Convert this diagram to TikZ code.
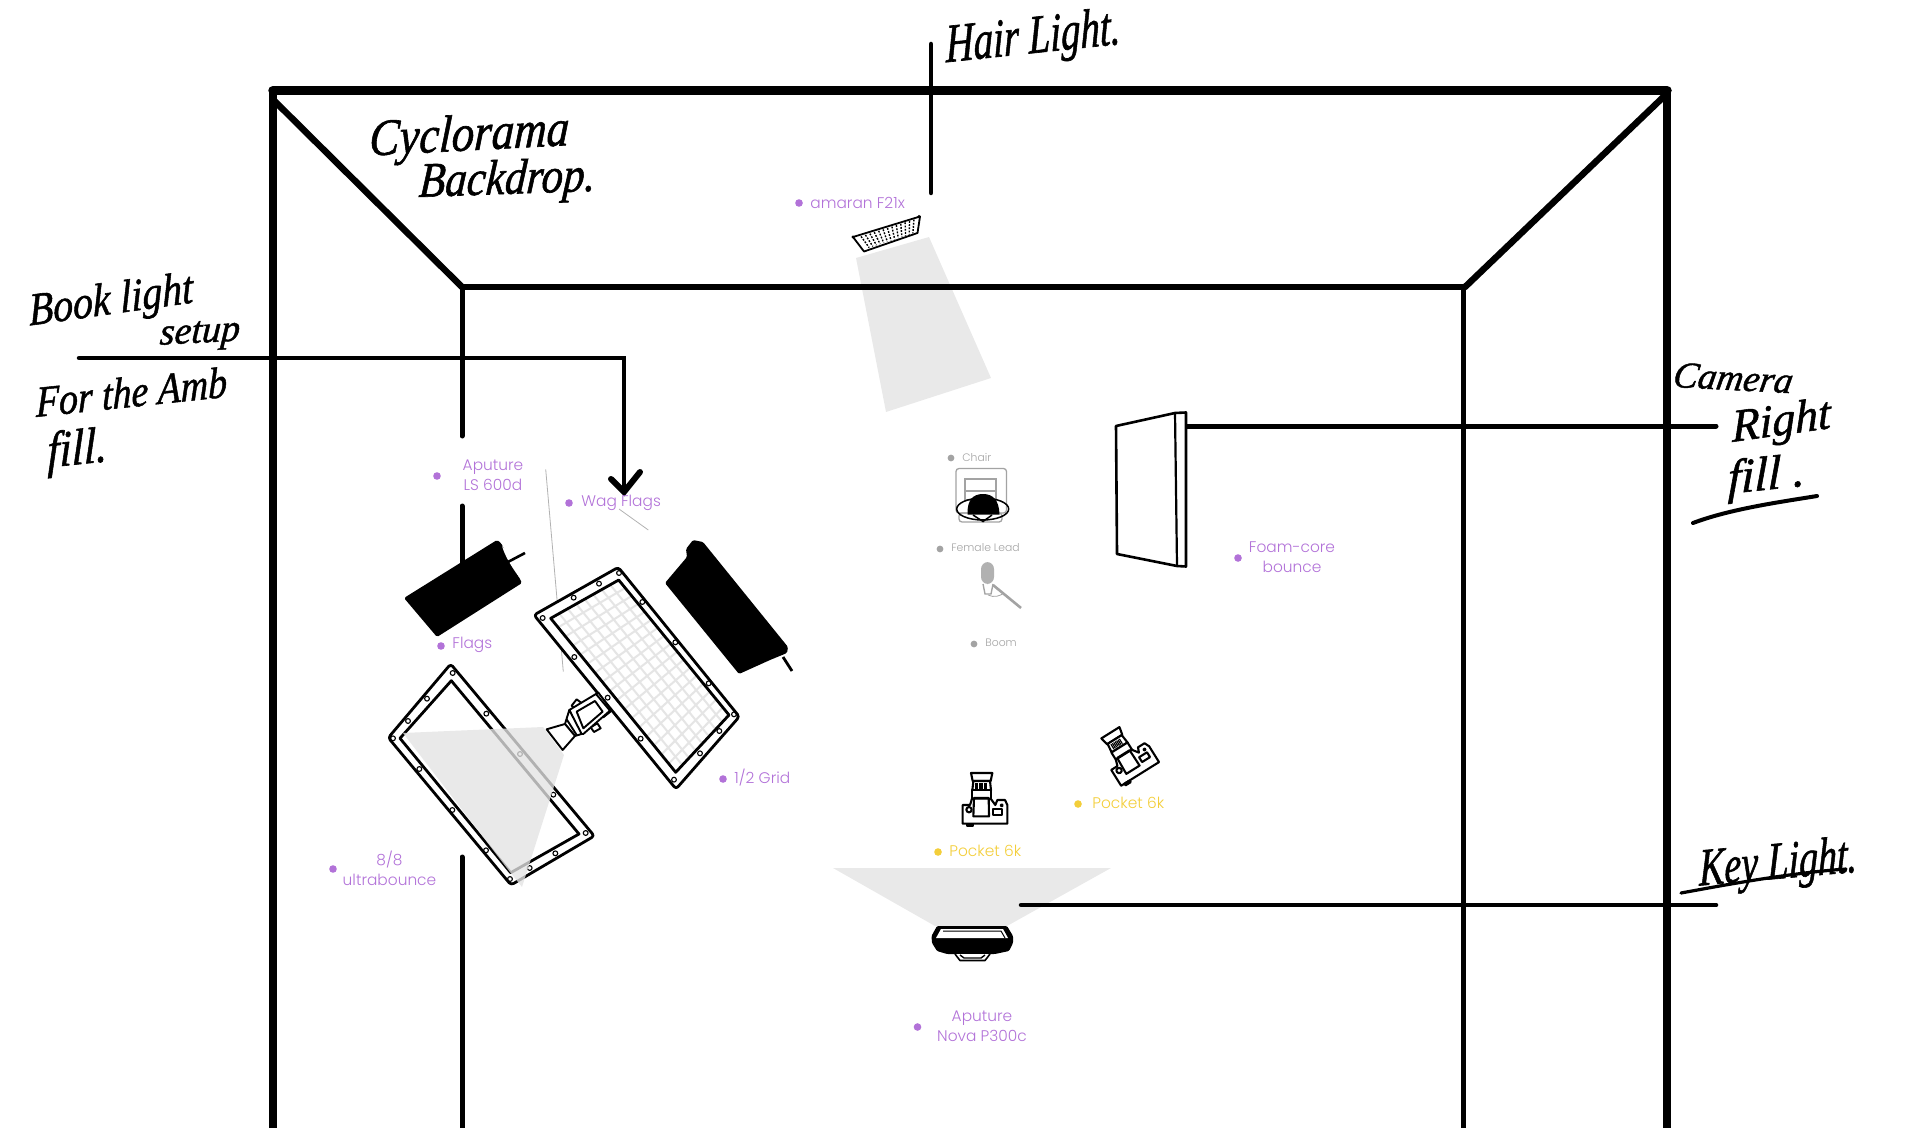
\documentclass[tikz,border=0pt]{standalone}
\usepackage{fontspec}
\usepackage{graphicx}
\usetikzlibrary{calc}
\setmainfont{Poppins Light}
\newfontfamily\handfont[FakeBold=1.2,FakeSlant=0.12]{Liberation Serif Italic}
\newcommand\tallA[1]{\scalebox{1}[1.4]{#1}}
\newcommand\tallB[1]{\scalebox{1}[1.15]{#1}}
\definecolor{purp}{HTML}{B272D8}
\definecolor{greyl}{HTML}{A3A3A3}
\definecolor{yell}{HTML}{F3CE3A}
\definecolor{beamc}{HTML}{E3E3E3}
\tikzset{
  wall/.style={line width=#1*0.5pt,line cap=round,black},
  lbl/.style={inner sep=0pt,align=center,font=\fontsize{7.7}{10}\selectfont,text=#1},
  slbl/.style={inner sep=0pt,font=\fontsize{5.4}{7}\selectfont,text=greyl},
  dotp/.style={circle,inner sep=0pt,minimum size=3.8pt,fill=#1},
  hand/.style={inner sep=0pt,text=black,font=\handfont\fontsize{#1}{#1}\selectfont},
  beam/.style={fill=beamc,fill opacity=.78,draw=none},
  frame/.style={draw=black,line width=1.4pt,line join=round},
  rivet/.style={draw=black,line width=.55pt,fill=none},
  camicon/.pic={
    \begin{scope}[scale=0.3333,shift={(-195,-238)},line width=1.05pt,line join=round,draw=black,fill=white]
      \filldraw (153,160)--(217,160)--(212,184)--(158,184)--cycle;
      \filldraw (160,184)--(210,184)--(213,212)--(157,212)--cycle;
      \filldraw (156,212)--(213,212)--(213,240)--(156,240)--cycle;
      \foreach \q in {168,173,...,198}{\draw[line width=.6pt] (\q,190)--(\q,207);}
      \filldraw (128,256)--(150,256)--(156,237)--(212,237)--(226,256)--(232,241)--(255,241)--(262,256)--(262,312)--(128,312)--cycle;
      \filldraw (140,312)--(158,312)--(158,318)--(140,318)--cycle;
      \draw (162,235)--(206,235)--(207,290)--(160,290)--cycle;
      \draw (147,270) circle (8);
      \draw (219,268) rectangle (247,285);
      \draw (245,257) circle (3);
    \end{scope}
  }
}
\begin{document}
\begin{tikzpicture}[x=0.5pt,y=-0.5pt]
\path[use as bounding box] (0,0) rectangle (1920,1128);

% named corners
\coordinate (oTL) at (273,90.5);
\coordinate (oTR) at (1667,90.5);
\coordinate (oBL) at (273,1128);
\coordinate (oBR) at (1667,1128);
\coordinate (iTL) at (462,287);
\coordinate (iTR) at (1465,287);
\coordinate (iBR) at (1463,1128);
\coordinate (iBL) at (462,1128);

% hair beam and key beam (under the walls)
\path[beam] (856,258)--(929,237)--(991,378)--(886,412)--cycle;
\path[beam] (833,868)--(1111,868)--(1007,926)--(935,926)--cycle;

% walls
\draw[wall=9.5] (oTL)--(oTR);
\draw[wall=8] (oTL)--(oBL);
\draw[wall=8] (oTR)--(oBR);
\draw[wall=6.5] ($(oTL)+(0,9)$)--(iTL);
\draw[wall=6.5] ($(oTR)+(0,3)$)--(iTR);
\draw[wall=6] (iTL)--(iTR);
\draw[wall=5] (1463,287)--(iBR);
\draw[wall=5] (iTL)--(462,436);
\draw[wall=5] (462,506)--(462,570);
\draw[wall=5] (462,857)--(iBL);

% leader lines
\coordinate (hairTop) at (931,44);
\coordinate (hairEnd) at (931,193);
\draw[wall=4.5] (hairTop)--(hairEnd);
\coordinate (bookS) at (79,358);
\coordinate (bookC) at (624,358);
\coordinate (bookE) at (624,492);
\draw[wall=4.5,line join=miter] (bookS)--(bookC)--(bookE);
\coordinate (arrL) at (611,479);
\coordinate (arrR) at (640,472);
\draw[wall=6,line join=miter] (arrL)--(bookE)--(arrR);
\coordinate (camS) at (1184,426);
\coordinate (camE) at (1716,426);
\draw[wall=5] (camS)--(camE);
\coordinate (keyS) at (1021,905);
\coordinate (keyE) at (1716,905);
\draw[wall=4.5] (keyS)--(keyE);

% thin grey lines
\coordinate (tA) at (545.7,469.3);
\coordinate (tB) at (563.3,671.7);
\coordinate (tC) at (619,509);
\coordinate (tD) at (648.3,530);
\draw[line width=.4pt,color=black!30] (tA)--(tB);
\draw[line width=.4pt,color=black!30] (tC)--(tD);

% hair light icon
\filldraw[fill=white,draw=black,line width=.9pt,line join=round]
  (853,237)--(920,216.5)--(917.5,233)--(864,251.5)--cycle;
\foreach \t in {0.08,0.15,...,0.95}{
  \draw[line width=.7pt,dash pattern=on .9pt off .7pt]
   ($(856,238)!\t!(919,218)$)--($(865,249)!\t!(917,232)$);
}
\fill (853,237) circle (1.6);
\fill (919,216.5) circle (1.6);

% LS600d
\fill[rounded corners=.8pt] (404,598)--(497,540)--(501,543)--(522,583)--(437,637)--cycle;
\fill[white] (502,546) .. controls (512,555) and (518,570) .. (519,577) .. controls (511,566) and (505,556) .. cycle;
\draw[line width=1.3pt] (506,563)--(525,553);

% second black light
\fill[rounded corners=.7pt] (665,583)--(687,557)--(686,549)--(693,540)--(703,542)--(788,647)--(787,653)--(770,660)--(739,674)--cycle;
\draw[line width=1.4pt] (783,657)--(792,671);

% ultrabounce frame
\coordinate (uA) at (450.7,664);
\coordinate (uB) at (388.3,737.7);
\coordinate (uC) at (511,885);
\coordinate (uD) at (594.3,836);
\coordinate (uIA) at (451.3,680.7);
\coordinate (uIB) at (400,738.3);
\coordinate (uIC) at (510.7,872.7);
\coordinate (uID) at (579,834);
\filldraw[frame,fill=white,rounded corners=1.5pt] (uA)--(uB)--(uC)--(uD)--cycle;
\draw[frame] (uIA)--(uIB)--(uIC)--(uID)--cycle;
\foreach \a/\b in {218/699,141/776,84/843,39/895,118/987,217/1110,318/1231,390/1317,449/1284,526/1240,617/1179,520/1064,420/942,319/821}{
  \draw[rivet] ({380+\a/3},{440+\b/3}) circle (2.4);
}
% bounce beam
\path[beam] (403,733)--(543,727)--(564,755)--(522,887)--(510,872)--cycle;

% grid frame
\coordinate (gA) at (618.3,567.3);
\coordinate (gB) at (534,615);
\coordinate (gC) at (676,789);
\coordinate (gD) at (739.3,716.7);
\coordinate (gIA) at (618.7,580);
\coordinate (gIB) at (550.7,618.3);
\coordinate (gIC) at (675.7,772.3);
\coordinate (gID) at (729,715);
\filldraw[frame,fill=white,rounded corners=1.5pt] (gA)--(gB)--(gC)--(gD)--cycle;
\foreach \t in {0.059,0.118,...,0.96}{
  \draw[line width=1pt,color=black!10] ($(gIA)!\t!(gID)$)--($(gIB)!\t!(gIC)$);
}
\foreach \t in {0.125,0.25,...,0.9}{
  \draw[line width=1pt,color=black!10] ($(gIA)!\t!(gIB)$)--($(gID)!\t!(gIC)$);
}
\draw[frame] (gIA)--(gIB)--(gIC)--(gID)--cycle;
\foreach \a/\b in {717/399,657/431,581/473,488/534,583/651,683/773,782/896,882/1019,960/940,1018/873,1062/823,986/730,886/607,787/486}{
  \draw[rivet] ({380+\a/3},{440+\b/3}) circle (2.4);
}

% clamp and bulb between the frames
\begin{scope}[shift={(380,440)},scale=0.3333,line width=.95pt,line join=round,draw=black,fill=white]
  \filldraw (575,797)--(590,778)--(606,790)--(590,810)--cycle;
  \filldraw (632,862)--(652,850)--(662,865)--(642,876)--cycle;
  \filldraw (640,770)--(655,758)--(695,812)--(670,832)--cycle;
  \filldraw (568,810)--(648,762)--(690,812)--(610,882)--(600,882)--cycle;
  \draw (590,815)--(645,783)--(668,815)--(610,865)--cycle;
  \filldraw (555,852)--(568,810)--(605,882)--(585,888)--cycle;
  \draw (560,838)--(590,885);
  \filldraw (500,868)--(555,852)--(585,888)--(548,930)--cycle;
\end{scope}

% chair and talent
\draw[greyl,line width=.65pt,rounded corners=1.5pt] (956,468.5) rectangle (1006.5,513);
\draw[greyl,line width=.65pt] (965,479) rectangle (996,500);
\draw[greyl,line width=.65pt] (965,491)--(996,491);
\draw[greyl,line width=.65pt,rounded corners=1.5pt] (959,513) rectangle (1002,522);
\draw[black,line width=.75pt] (982.7,509) ellipse (26 and 11);
\fill (967.5,514.5) .. controls (967,500) and (973,494) .. (983,494) .. controls (993,494) and (999,500) .. (999.5,514.5) -- cycle;
\draw[black,line width=.75pt] (973,515)--(983,521.5)--(992,515);

% microphone
\fill[greyl!85,rounded corners=3.5pt] (981,562) rectangle (994,584);
\draw[greyl,line width=.7pt] (983,584)--(985,594)--(991,594)--(993,584);
\draw[greyl,line width=1.3pt] (993,585)--(1021,608);
\draw[greyl,line width=.4pt] (988,595) .. controls (994,598) and (1000,596) .. (1004,593);

% foam-core
\filldraw[fill=white,draw=black,line width=1.3pt,line join=round] (1116,426)--(1175,413)--(1186,412.5)--(1186,566.5)--(1177,566)--(1117,554)--cycle;
\draw[black,line width=1.1pt] (1175,413)--(1177,566);

% cameras
\pic[rotate=0] (camA) at (985,799) {camicon};
\pic[rotate=32] (camB) at (1127,753) {camicon};

% key light icon
\fill[rounded corners=.6pt] (937,926)--(1007,926)--(1013,936)--(1013,943)--(1009,951)--(995,954)--(947,954)--(937,951)--(932,943)--(931.5,936)--cycle;
\fill[white] (941,929)--(1003,929)--(1008,938)--(936,938)--cycle;
\draw[line width=.5pt] (943,931)--(1001,931)--(1005,938);
\filldraw[fill=white,draw=black,line width=.8pt,line join=round] (955,954)--(960,960.5)--(985,960.5)--(990,954);
\draw[line width=.7pt] (960,955)--(964,958)--(981,958)--(985,955);

% labels
\node[dotp=purp] (dF) at (799,203) {};
\node[lbl=purp,anchor=west] (lF) at (810,203) {amaran F21x};
\node[dotp=purp] (dLS) at (437,476) {};
\node[lbl=purp] (lLS) at (493,475) {Aputure\\LS 600d};
\node[dotp=purp] (dW) at (569,503) {};
\node[lbl=purp,anchor=west] (lW) at (581,502.5) {Wag Flags};
\node[dotp=purp] (dFl) at (441,646) {};
\node[lbl=purp,anchor=west] (lFl) at (452,645) {Flags};
\node[dotp=purp] (dG) at (723,779) {};
\node[lbl=purp,anchor=west] (lG) at (734,778) {1/2 Grid};
\node[dotp=purp] (dU) at (333,869) {};
\node[lbl=purp] (lU) at (389.5,868) {8/8\\ultrabounce};
\node[dotp=purp] (dN) at (917.5,1027) {};
\node[lbl=purp] (lN) at (982,1026) {Aputure\\Nova P300c};
\node[dotp=purp] (dFc) at (1238,558) {};
\node[lbl=purp] (lFc) at (1292,557) {Foam-core\\bounce};
\node[dotp=yell] (dP1) at (938,852) {};
\node[lbl=yell,anchor=west] (lP1) at (949,851) {Pocket 6k};
\node[dotp=yell] (dP2) at (1078,804) {};
\node[lbl=yell,anchor=west] (lP2) at (1092,803) {Pocket 6k};
\node[dotp=greyl,minimum size=3.4pt] (dC) at (951,458) {};
\node[slbl,anchor=west] (lC) at (962,457) {Chair};
\node[dotp=greyl,minimum size=3.4pt] (dL) at (940,549) {};
\node[slbl,anchor=west] (lL) at (951,547.5) {Female Lead};
\node[dotp=greyl,minimum size=3.4pt] (dB) at (974,644) {};
\node[slbl,anchor=west] (lB) at (985,643) {Boom};

% handwriting
\node[hand=19.5,rotate=6] (hHair) at (1032,40) {\tallA{Hair Light.}};
\node[hand=22.5,rotate=3] (hCyc) at (468,138) {\tallB{Cyclorama}};
\node[hand=21.5,rotate=2] (hBack) at (506,182) {\tallB{Backdrop.}};
\node[hand=20,rotate=8] (hBook) at (110,303) {\tallB{Book light}};
\node[hand=19,rotate=3] (hSet) at (199,336) {setup};
\node[hand=19,rotate=6] (hFor) at (130,392) {\tallB{For the Amb}};
\node[hand=22,rotate=6] (hFill) at (76,452) {\tallB{fill.}};
\node[hand=18.5,rotate=-3] (hCam) at (1732,378) {Camera};
\node[hand=23,rotate=8] (hRight) at (1780,424) {Right};
\node[hand=24,rotate=6] (hFillR) at (1765,478) {fill .};
\node[hand=19,rotate=5] (hKey) at (1777,866) {\tallA{Key Light.}};
\coordinate (ulA) at (1693,523);
\coordinate (ulB) at (1817,496);
\draw[wall=4] (ulA) .. controls (1730,509) and (1780,502) .. (ulB);
\coordinate (kuA) at (1681,893);
\coordinate (kuB) at (1846,869);
\draw[wall=3.2] (kuA) .. controls (1730,884) and (1790,873) .. (kuB);
\end{tikzpicture}
\end{document}
